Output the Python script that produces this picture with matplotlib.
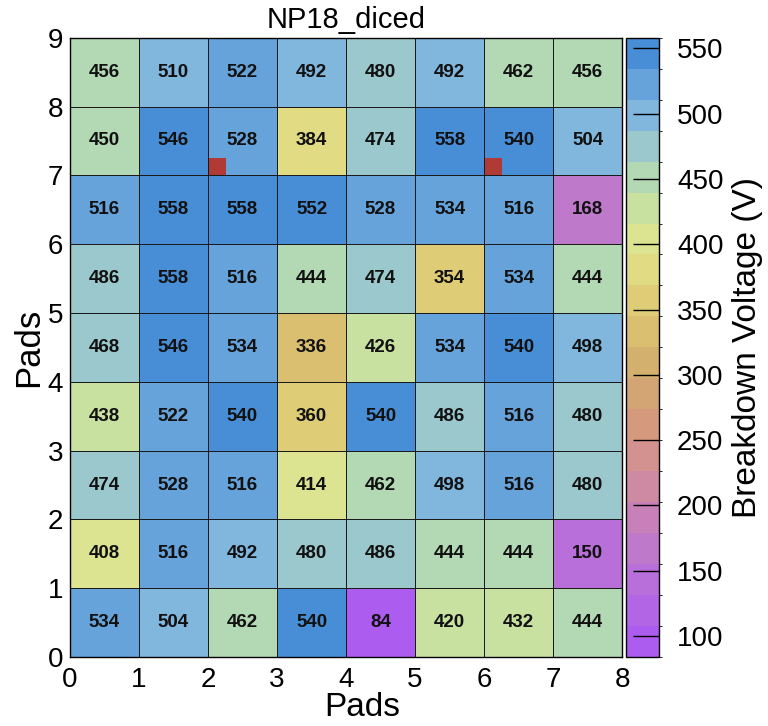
import numpy as np
import matplotlib
matplotlib.use("Agg")
import matplotlib.pyplot as plt
from matplotlib.colors import LinearSegmentedColormap, BoundaryNorm
from matplotlib.patches import Rectangle

plt.rcParams['font.family'] = ['Liberation Sans', 'DejaVu Sans']

# breakdown voltage per pad, rows from y=0 (bottom) to y=8 (top)
row0 = [534, 504, 462, 540, 84, 420, 432, 444]
row1 = [408, 516, 492, 480, 486, 444, 444, 150]
row2 = [474, 528, 516, 414, 462, 498, 516, 480]
row3 = [438, 522, 540, 360, 540, 486, 516, 480]
row4 = [468, 546, 534, 336, 426, 534, 540, 498]
row5 = [486, 558, 516, 444, 474, 354, 534, 444]
row6 = [516, 558, 558, 552, 528, 534, 516, 168]
row7 = [450, 546, 528, 384, 474, 558, 540, 504]
row8 = [456, 510, 522, 492, 480, 492, 462, 456]

# pads flagged with a red marker (x, y of cell corner)
flagged_x = [2, 6]
flagged_y = [7, 7]

vmin, vmax = 84, 558
n_contours = 20

data = np.array([row0, row1, row2, row3, row4, row5, row6, row7, row8], dtype=float)

# palette
anchor_vals = [84, 100, 150, 200, 250, 300, 350, 400, 450, 500, 558]
anchor_cols = [(172, 92, 238), (176, 98, 232), (188, 118, 210), (205, 135, 170),
               (214, 150, 128), (210, 172, 110), (222, 200, 115), (226, 228, 140),
               (185, 222, 172), (138, 188, 222), (72, 142, 215)]
pos = [(v - vmin) / (vmax - vmin) for v in anchor_vals]
cmap = LinearSegmentedColormap.from_list(
    "bv", list(zip(pos, [tuple(c / 255 for c in col) for col in anchor_cols])))
levels = np.linspace(vmin, vmax, n_contours + 1)
norm = BoundaryNorm(levels, cmap.N)

fig = plt.figure(figsize=(7.68, 7.26), dpi=100)
ax = fig.add_axes([0.0911, 0.095, 0.719, 0.853])
cax = fig.add_axes([0.815, 0.095, 0.043, 0.853])

ny, nx = data.shape
mesh = ax.pcolormesh(np.arange(nx + 1), np.arange(ny + 1), data, cmap=cmap, norm=norm,
                     edgecolor='#1a1a1a', linewidth=0.6)

for j in range(ny):
    for i in range(nx):
        ax.text(i + 0.5, j + 0.5, f"{int(data[j, i])}", ha='center', va='center',
                fontsize=13.5, fontweight='bold', color='#111111')

for x, y in zip(flagged_x, flagged_y):
    ax.add_patch(Rectangle((x + 0.015, y), 0.24, 0.25, facecolor='#b03a36',
                           edgecolor='none', zorder=3))

ax.set_xlim(0, nx)
ax.set_ylim(0, ny)
ax.set_xticks(range(nx + 1))
ax.set_yticks(range(ny + 1))
ax.tick_params(direction='in', labelsize=20, length=0)
ax.tick_params(axis='x', pad=7)
ax.tick_params(axis='y', pad=5)
ax.set_xlabel("Pads", fontsize=24, labelpad=0)
ax.set_ylabel("Pads", fontsize=25, labelpad=2)
ax.set_title("NP18_diced", fontsize=21, pad=7)
ax.xaxis.set_label_coords(0.53, -0.056)
for s in ax.spines.values():
    s.set_linewidth(1.0)

cb = fig.colorbar(mesh, cax=cax, ticks=list(range(100, 551, 50)))
cb.outline.set_linewidth(1.0)
cax.tick_params(direction='in', labelsize=20, length=19, width=1, pad=13)
cb.set_label("Breakdown Voltage (V)", fontsize=24, labelpad=6)

fig.savefig("out.png", dpi=100)
